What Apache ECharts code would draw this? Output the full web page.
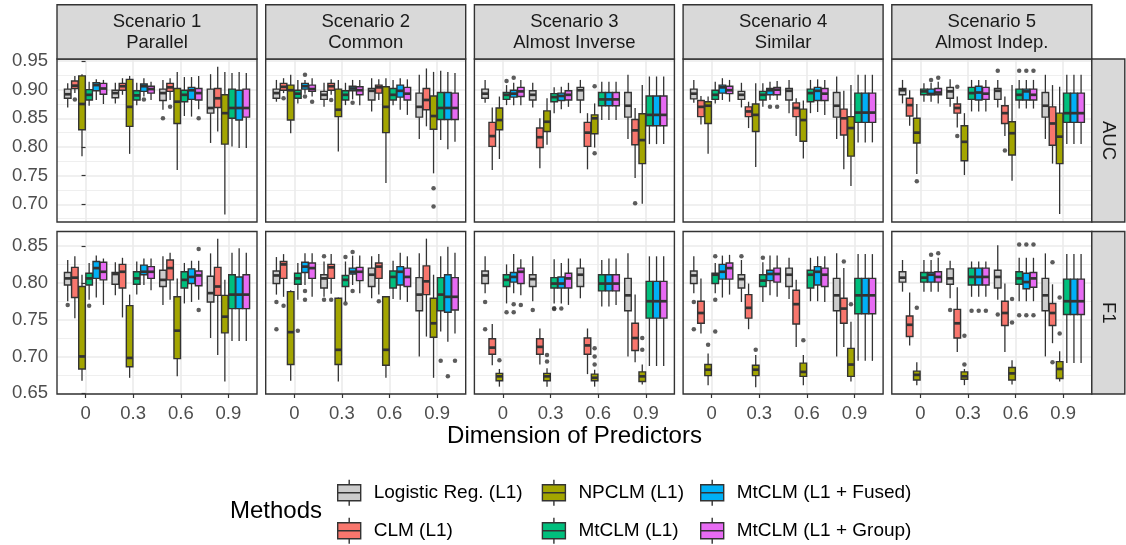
<!DOCTYPE html>
<html><head><meta charset="utf-8">
<script src="https://cdn.jsdelivr.net/npm/echarts@6/dist/echarts.min.js"></script>
<style>html,body{margin:0;padding:0;background:#fff}#c{width:1126px;height:545px}</style>
</head><body><div id="c"></div>
<script>
// ---------- categories / labels ----------
const dims = ['0', '0.3', '0.6', '0.9'];
const methods = ['Logistic Reg. (L1)', 'CLM (L1)', 'NPCLM (L1)', 'MtCLM (L1)', 'MtCLM (L1 + Fused)', 'MtCLM (L1 + Group)'];
const methodColors = ['#CCCCCC', '#F8766D', '#A3A500', '#00BF7D', '#00B0F6', '#E76BF3'];
const scenarioLabels = ['Scenario 1\nParallel', 'Scenario 2\nCommon', 'Scenario 3\nAlmost Inverse', 'Scenario 4\nSimilar', 'Scenario 5\nAlmost Indep.'];
const metricLabels = ['AUC', 'F1'];
const aucTicks = [0.70, 0.75, 0.80, 0.85, 0.90, 0.95];
const f1Ticks = [0.65, 0.70, 0.75, 0.80, 0.85];

// ---------- box statistics: per dimension, 6 methods x [lower whisker, Q1, median, Q3, upper whisker] ----------
const aucS1 = [
  [[.869,.885,.892,.901,.911],[.894,.902,.907,.915,.924],[.784,.830,.875,.924,.927],[.872,.882,.891,.900,.914],[.882,.898,.908,.912,.918],[.875,.892,.902,.911,.917]],
  [[.876,.886,.894,.899,.912],[.891,.899,.906,.911,.920],[.788,.836,.870,.918,.924],[.873,.882,.890,.898,.912],[.888,.897,.906,.910,.920],[.882,.894,.901,.906,.914]],
  [[.865,.881,.894,.901,.917],[.882,.897,.904,.911,.920],[.760,.841,.879,.902,.931],[.854,.879,.891,.899,.922],[.853,.883,.899,.904,.922],[.866,.882,.894,.902,.924]],
  [[.807,.859,.868,.901,.927],[.827,.869,.885,.902,.940],[.682,.805,.859,.891,.931],[.801,.850,.868,.901,.929],[.798,.847,.868,.899,.931],[.798,.852,.868,.901,.929]]
];
const aucS1Out = [[0,1,.883],[1,4,.883],[2,0,.850],[2,1,.870],[2,5,.850]];

const aucS2 = [
  [[.879,.885,.894,.901,.917],[.894,.899,.905,.911,.920],[.824,.847,.899,.908,.926],[.876,.885,.893,.899,.917],[.893,.901,.906,.911,.917],[.888,.897,.901,.908,.920]],
  [[.870,.883,.891,.897,.912],[.891,.899,.906,.911,.918],[.792,.853,.865,.901,.917],[.873,.882,.891,.898,.912],[.883,.898,.902,.906,.917],[.873,.891,.899,.905,.917]],
  [[.862,.882,.898,.902,.920],[.882,.894,.904,.908,.918],[.737,.825,.870,.905,.920],[.873,.882,.891,.902,.917],[.865,.887,.898,.908,.920],[.856,.882,.893,.904,.918]],
  [[.814,.852,.870,.894,.926],[.836,.865,.882,.902,.937],[.754,.831,.854,.889,.931],[.812,.848,.868,.895,.933],[.796,.848,.868,.895,.931],[.809,.848,.868,.894,.929]]
];
const aucS2Out = [[0,1,.885],[0,4,.926],[0,4,.888],[0,5,.879],[1,1,.882],[1,4,.877],[3,2,.728],[3,2,.696]];

const aucS3 = [
  [[.877,.885,.893,.901,.917],[.760,.801,.819,.843,.869],[.779,.830,.847,.868,.888],[.873,.883,.891,.895,.908],[.873,.887,.893,.899,.912],[.873,.888,.897,.904,.917]],
  [[.869,.882,.891,.898,.912],[.763,.799,.817,.833,.850],[.804,.827,.844,.863,.885],[.859,.879,.887,.893,.904],[.866,.881,.889,.894,.905],[.870,.882,.891,.898,.912]],
  [[.859,.882,.899,.904,.917],[.761,.801,.825,.843,.859],[.799,.823,.850,.856,.876],[.847,.872,.883,.895,.914],[.847,.872,.883,.895,.914],[.847,.872,.883,.895,.914]],
  [[.814,.852,.872,.895,.926],[.746,.804,.829,.848,.868],[.701,.771,.812,.858,.908],[.805,.837,.856,.889,.923],[.805,.837,.856,.889,.923],[.805,.837,.856,.889,.923]]
];
const aucS3Out = [[0,3,.915],[0,4,.921],[2,2,.906],[2,2,.789],[3,1,.702]];

const aucS4 = [
  [[.877,.884,.893,.901,.917],[.839,.853,.870,.881,.889],[.788,.841,.872,.879,.888],[.876,.883,.891,.899,.914],[.882,.894,.904,.908,.920],[.879,.893,.899,.906,.917]],
  [[.869,.883,.891,.897,.912],[.833,.853,.862,.870,.879],[.765,.827,.856,.875,.911],[.870,.882,.891,.897,.911],[.882,.891,.899,.902,.914],[.882,.891,.900,.904,.915]],
  [[.859,.882,.898,.902,.917],[.819,.853,.868,.877,.885],[.780,.810,.847,.866,.881],[.859,.879,.894,.901,.917],[.861,.881,.898,.904,.918],[.856,.881,.893,.902,.917]],
  [[.814,.852,.872,.895,.923],[.761,.821,.850,.866,.898],[.732,.784,.833,.853,.908],[.808,.843,.860,.894,.926],[.808,.843,.860,.894,.926],[.808,.843,.860,.894,.926]]
];
const aucS4Out = [[1,4,.870],[1,5,.870]];

const aucS5 = [
  [[.876,.891,.899,.902,.917],[.837,.854,.873,.885,.899],[.753,.807,.825,.850,.875],[.879,.891,.897,.901,.911],[.879,.891,.8925,.901,.912],[.876,.891,.895,.902,.914]],
  [[.870,.885,.897,.904,.918],[.834,.859,.868,.875,.888],[.751,.776,.809,.837,.859],[.862,.883,.894,.904,.917],[.862,.882,.895,.906,.917],[.862,.883,.893,.904,.917]],
  [[.869,.883,.898,.902,.917],[.819,.841,.859,.872,.888],[.741,.786,.824,.844,.908],[.867,.882,.891,.901,.917],[.867,.882,.897,.901,.917],[.867,.882,.891,.901,.917]],
  [[.814,.852,.872,.895,.926],[.771,.803,.841,.870,.908],[.683,.771,.818,.859,.905],[.805,.843,.859,.894,.926],[.805,.843,.859,.894,.926],[.805,.843,.859,.894,.926]]
];
const aucS5Out = [[0,2,.740],[0,4,.917],[0,5,.921],[1,1,.905],[1,1,.819],[2,0,.933],[2,1,.794],[2,3,.933],[2,4,.933],[2,5,.933]];

const f1S1 = [
  [[.775,.797,.806,.814,.831],[.752,.780,.807,.821,.836],[.667,.683,.700,.795,.811],[.777,.797,.806,.813,.827],[.780,.806,.820,.829,.837],[.770,.804,.815,.828,.833]],
  [[.783,.798,.812,.814,.828],[.753,.793,.815,.825,.834],[.671,.686,.698,.769,.784],[.784,.798,.806,.815,.829],[.797,.811,.815,.824,.833],[.790,.806,.815,.822,.833]],
  [[.770,.795,.804,.817,.836],[.777,.804,.820,.831,.841],[.673,.697,.735,.781,.806],[.772,.793,.804,.815,.827],[.774,.799,.808,.819,.830],[.777,.796,.810,.816,.830]],
  [[.725,.774,.786,.809,.840],[.702,.783,.795,.821,.860],[.666,.732,.754,.783,.804],[.721,.765,.784,.811,.841],[.721,.765,.784,.808,.847],[.721,.765,.784,.811,.841]]
];
const f1S1Out = [[0,0,.770],[0,3,.769],[2,5,.846],[2,5,.763]];

const f1S2 = [
  [[.784,.799,.810,.816,.835],[.781,.806,.825,.829,.839],[.667,.689,.733,.788,.790],[.777,.798,.806,.813,.827],[.797,.814,.822,.828,.840],[.781,.806,.820,.827,.840]],
  [[.781,.793,.806,.811,.829],[.785,.806,.821,.825,.839],[.666,.689,.709,.779,.780],[.774,.795,.804,.810,.829],[.797,.812,.815,.820,.837],[.786,.803,.815,.821,.837]],
  [[.779,.795,.811,.820,.836],[.784,.806,.822,.827,.839],[.671,.688,.709,.781,.782],[.778,.793,.808,.816,.830],[.777,.797,.815,.822,.841],[.774,.795,.808,.820,.836]],
  [[.700,.762,.784,.807,.840],[.727,.784,.802,.823,.860],[.671,.726,.745,.779,.811],[.734,.762,.784,.807,.836],[.720,.760,.781,.811,.849],[.731,.763,.781,.807,.841]]
];
const f1S2Out = [[0,0,.774],[0,0,.737],[0,1,.769],[0,3,.735],[0,4,.789],[0,4,.777],[1,0,.836],[1,0,.777],[1,1,.777],[1,3,.835],[1,3,.772],[1,4,.842],[1,4,.789],[2,1,.775],[3,3,.694],[3,4,.673],[3,5,.694]];

const f1S3 = [
  [[.786,.799,.810,.816,.836],[.688,.703,.712,.724,.744],[.659,.667,.673,.677,.683],[.772,.795,.804,.811,.825],[.786,.801,.808,.814,.839],[.783,.799,.815,.820,.832]],
  [[.775,.795,.805,.811,.836],[.689,.703,.713,.724,.738],[.659,.667,.673,.677,.684],[.772,.793,.799,.807,.832],[.772,.793,.799,.808,.827],[.770,.793,.806,.813,.833]],
  [[.779,.795,.811,.820,.833],[.676,.703,.715,.725,.738],[.659,.667,.671,.676,.682],[.768,.789,.799,.811,.831],[.768,.789,.799,.811,.833],[.770,.789,.799,.811,.833]],
  [[.700,.762,.783,.806,.840],[.692,.708,.725,.745,.784],[.662,.666,.673,.679,.689],[.687,.752,.775,.802,.836],[.687,.752,.775,.802,.836],[.687,.752,.775,.802,.836]]
];
const f1S3Out = [[0,0,.774],[0,0,.737],[0,2,.695],[0,3,.760],[0,4,.771],[0,4,.760],[0,5,.770],[1,0,.763],[1,2,.702],[1,2,.693],[1,3,.7655],[1,3,.7645],[1,4,.765],[2,2,.711],[2,2,.700],[2,2,.689],[3,2,.725],[3,2,.709]];

const f1S4 = [
  [[.786,.799,.810,.816,.836],[.731,.745,.759,.775,.806],[.661,.674,.682,.689,.704],[.786,.799,.811,.813,.827],[.780,.805,.815,.825,.837],[.784,.805,.820,.827,.838]],
  [[.774,.793,.805,.811,.831],[.737,.752,.766,.784,.799],[.658,.674,.682,.688,.702],[.774,.795,.803,.811,.828],[.783,.803,.812,.817,.837],[.781,.801,.812,.820,.837]],
  [[.778,.795,.811,.820,.834],[.713,.744,.771,.790,.804],[.661,.673,.679,.691,.702],[.775,.793,.811,.817,.834],[.775,.797,.815,.822,.836],[.774,.795,.811,.820,.836]],
  [[.700,.762,.783,.806,.840],[.713,.745,.765,.779,.820],[.666,.673,.689,.711,.747],[.694,.758,.783,.806,.839],[.694,.758,.783,.806,.839],[.694,.758,.783,.806,.839]]
];
const f1S4Out = [[0,0,.774],[0,0,.737],[0,2,.716],[0,3,.836],[0,3,.777],[0,3,.734],[1,0,.836],[1,2,.709],[1,3,.834],[2,2,.722],[3,1,.829],[3,2,.771]];

const f1S5 = [
  [[.788,.801,.807,.815,.831],[.715,.727,.743,.755,.787],[.661,.668,.675,.680,.692],[.788,.801,.807,.814,.831],[.788,.801,.811,.814,.831],[.788,.801,.808,.815,.834]],
  [[.779,.798,.806,.819,.830],[.706,.725,.745,.764,.794],[.661,.669,.673,.679,.683],[.781,.797,.808,.820,.829],[.781,.797,.808,.820,.829],[.781,.797,.808,.820,.829]],
  [[.777,.793,.808,.817,.851],[.706,.742,.759,.775,.799],[.662,.668,.677,.685,.695],[.775,.798,.806,.815,.834],[.775,.792,.801,.813,.834],[.775,.794,.806,.814,.834]],
  [[.700,.762,.783,.806,.840],[.718,.742,.759,.772,.798],[.666,.670,.683,.693,.707],[.691,.757,.775,.805,.839],[.691,.757,.775,.805,.839],[.691,.757,.775,.805,.839]]
];
const f1S5Out = [[0,2,.766],[0,4,.838],[0,5,.840],[1,0,.763],[1,2,.728],[1,2,.689],[1,3,.762],[1,4,.762],[1,5,.762],[2,0,.757],[2,2,.778],[2,2,.746],[2,3,.852],[2,3,.756],[2,4,.852],[2,4,.756],[2,5,.852],[2,5,.756],[3,1,.828],[3,1,.692],[3,2,.780],[3,2,.731]];

const panelStats = [[aucS1, aucS2, aucS3, aucS4, aucS5], [f1S1, f1S2, f1S3, f1S4, f1S5]];
const panelOutliers = [[aucS1Out, aucS2Out, aucS3Out, aucS4Out, aucS5Out], [f1S1Out, f1S2Out, f1S3Out, f1S4Out, f1S5Out]];

// ---------- layout ----------
const FONT = "'Liberation Sans', Arial, Helvetica, sans-serif";
const PL = [57, 265.7, 474.4, 683.1, 891.8];
const PW = 200;
const ROW_TOP = [59, 231.5];
const ROW_H = [163, 162.5];
const Y_RANGE = [[0.6691, 0.9535], [0.649, 0.8697]];
const Y_TICKS = [aucTicks, f1Ticks];
const UNIT = PW / 4.2;
const HIDDEN = {show: false, axisLine: {show: false}, axisTick: {show: false}, axisLabel: {show: false}, splitLine: {show: false}};

const grids = [], xAxes = [], yAxes = [], series = [], graphics = [];

for (let r = 0; r < 2; r++) {
  for (let c = 0; c < 5; c++) {
    const p = r * 5 + c;
    const gOuter = 2 * p, gInner = 2 * p + 1;
    grids.push({left: PL[c], top: ROW_TOP[r], width: PW, height: ROW_H[r], show: true, backgroundColor: '#fff', borderWidth: 0});
    grids.push({left: PL[c] + 0.6 * UNIT, top: ROW_TOP[r], width: 3 * UNIT, height: ROW_H[r], show: false});
    xAxes.push(Object.assign({gridIndex: gOuter, type: 'value', min: -0.6, max: 3.6}, HIDDEN));
    xAxes.push({
      gridIndex: gInner, type: 'category', data: dims, boundaryGap: false,
      axisLine: {show: false},
      axisTick: {show: r === 1, length: 4, interval: 0, lineStyle: {color: '#333', width: 1.2}},
      axisLabel: {show: r === 1, interval: 0, margin: 10, fontSize: 18.5, fontFamily: FONT, color: '#4D4D4D'},
      splitLine: {show: true, interval: 0, lineStyle: {color: '#EBEBEB', width: 1.6}}
    });
    yAxes.push({
      gridIndex: gOuter, type: 'value', min: Y_RANGE[r][0], max: Y_RANGE[r][1],
      axisLine: {show: false},
      axisTick: {show: c === 0, length: 4, customValues: Y_TICKS[r], lineStyle: {color: '#333', width: 1.2}},
      axisLabel: {show: c === 0, customValues: Y_TICKS[r],
        margin: 9, fontSize: 18.5, fontFamily: FONT, color: '#4D4D4D', formatter: v => v.toFixed(2)},
      splitLine: {show: true, lineStyle: {color: '#EBEBEB', width: 1.6}},
      minorTick: {show: false, splitNumber: 2},
      minorSplitLine: {show: true, lineStyle: {color: '#EBEBEB', width: 0.8}}
    });
    yAxes.push(Object.assign({gridIndex: gInner, type: 'value', min: Y_RANGE[r][0], max: Y_RANGE[r][1]}, HIDDEN));
    const xi = gOuter, yi = 2 * p;

    const stats = panelStats[r][c];
    for (let m = 0; m < methods.length; m++) {
      series.push({
        type: 'custom', name: methods[m], xAxisIndex: xi, yAxisIndex: yi,
        itemStyle: {color: methodColors[m], borderColor: '#333', borderWidth: 1.4},
        encode: {x: 0, y: [1, 2, 3, 4, 5]},
        data: stats.map((box, d) => [d].concat(box[m])),
        silent: true, z: 3,
        renderItem: (params, api) => {
          const xc = api.value(0) - 0.375 + 0.15 * m;
          const lo = api.coord([xc, api.value(1)]);
          const q1 = api.coord([xc, api.value(2)]);
          const md = api.coord([xc, api.value(3)]);
          const q3 = api.coord([xc, api.value(4)]);
          const hi = api.coord([xc, api.value(5)]);
          const hw = api.size([0.069, 0])[0];
          const x = lo[0];
          const ln = {stroke: '#333', lineWidth: 1.3};
          return {type: 'group', children: [
            {type: 'line', shape: {x1: x, y1: hi[1], x2: x, y2: q3[1]}, style: ln},
            {type: 'line', shape: {x1: x, y1: q1[1], x2: x, y2: lo[1]}, style: ln},
            {type: 'rect', shape: {x: x - hw, y: q3[1], width: 2 * hw, height: q1[1] - q3[1]},
              style: {fill: methodColors[m], stroke: '#333', lineWidth: 1.4}},
            {type: 'line', shape: {x1: x - hw, y1: md[1], x2: x + hw, y2: md[1]}, style: {stroke: '#333', lineWidth: 2.7}}
          ]};
        }
      });
    }
    series.push({
      type: 'scatter', name: 'outliers', xAxisIndex: xi, yAxisIndex: yi, silent: true, z: 4,
      symbolSize: 4.5, itemStyle: {color: '#333'},
      data: panelOutliers[r][c].map(o => [o[0] - 0.375 + 0.15 * o[1], o[2]])
    });
    graphics.push({type: 'rect', z: 100, silent: true,
      shape: {x: PL[c], y: ROW_TOP[r], width: PW, height: ROW_H[r]},
      style: {fill: 'none', stroke: '#333', lineWidth: 1.4}});
  }
}

for (let c = 0; c < 5; c++) {
  graphics.push({type: 'rect', z: 100, silent: true, shape: {x: PL[c], y: 4.7, width: PW, height: 54.3},
    style: {fill: '#D9D9D9', stroke: '#333', lineWidth: 1.4}});
  graphics.push({type: 'text', z: 101, silent: true, x: PL[c] + PW / 2, y: 32.2,
    style: {text: scenarioLabels[c], align: 'center', verticalAlign: 'middle', fontSize: 18.5, lineHeight: 21,
      fontFamily: FONT, fill: '#1A1A1A'}});
}
for (let r = 0; r < 2; r++) {
  graphics.push({type: 'rect', z: 100, silent: true, shape: {x: PL[4] + PW, y: ROW_TOP[r], width: 33, height: ROW_H[r]},
    style: {fill: '#D9D9D9', stroke: '#333', lineWidth: 1.4}});
  graphics.push({type: 'text', z: 101, silent: true, x: PL[4] + PW + 16.5, y: ROW_TOP[r] + ROW_H[r] / 2,
    rotation: -Math.PI / 2,
    style: {text: metricLabels[r], align: 'center', verticalAlign: 'middle', fontSize: 18.5, fontFamily: FONT, fill: '#1A1A1A'}});
}
graphics.push({type: 'text', silent: true, x: 574.5, y: 436,
  style: {text: 'Dimension of Predictors', align: 'center', verticalAlign: 'middle', fontSize: 24, fontFamily: FONT, fill: '#000'}});
graphics.push({type: 'text', silent: true, x: 230, y: 511,
  style: {text: 'Methods', align: 'left', verticalAlign: 'middle', fontSize: 24, fontFamily: FONT, fill: '#000'}});

// legend: 3 columns x 2 rows (column-major), one legend component per key
const KEY_ICON = 'path://M0,5L23,5L23,21L0,21Z M0,13L23,13 M11.5,0L11.5,5 M11.5,21L11.5,26';
const legendLefts = [337, 541.7, 700];
const legendTops = [479, 517];
const legends = methods.map((name, i) => ({
  orient: 'horizontal', left: legendLefts[Math.floor(i / 2)], top: legendTops[i % 2], padding: 0,
  itemWidth: 23, itemHeight: 26, itemGap: 0, selectedMode: false,
  data: [{name: name, icon: KEY_ICON}],
  itemStyle: {borderColor: '#333', borderWidth: 1.4},
  textStyle: {fontSize: 19, fontFamily: FONT, color: '#000', padding: [0, 0, 0, 8]}
}));

const chart = echarts.init(document.getElementById('c'), null, {renderer: 'canvas'});
chart.setOption({
  animation: false,
  backgroundColor: '#fff',
  grid: grids, xAxis: xAxes, yAxis: yAxes,
  legend: legends,
  series: series,
  graphic: graphics
});
</script></body></html>
